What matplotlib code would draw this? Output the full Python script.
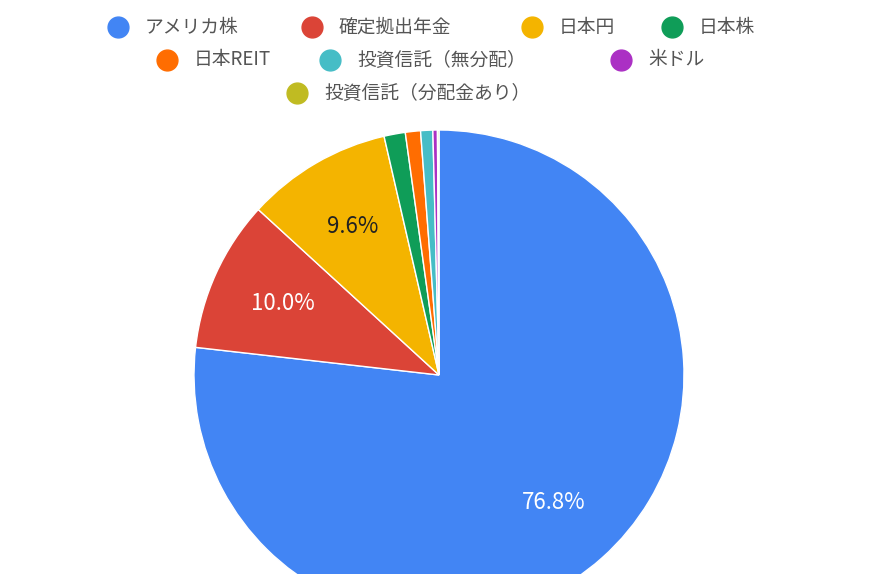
import matplotlib.pyplot as plt
from matplotlib.lines import Line2D

plt.rcParams['font.family'] = ['Noto Sans CJK JP', 'DejaVu Sans']

labels = ['アメリカ株', '確定拠出年金', '日本円', '日本株', '日本REIT',
          '投資信託（無分配）', '米ドル', '投資信託（分配金あり）']
values = [76.8, 10.0, 9.6, 1.4, 1.0, 0.8, 0.3, 0.1]
colors = ['#4285f4', '#db4437', '#f4b400', '#0f9d58', '#ff6d01',
          '#46bdc6', '#ab30c4', '#c0bb22']
pct_colors = ['white', 'white', '#222222']

W, H = 878, 574
fig = plt.figure(figsize=(W / 100, H / 100), dpi=100)

cx, cy, r = 439, 199, 245
ax = fig.add_axes([(cx - r) / W, (cy - r) / H, 2 * r / W, 2 * r / H])
wedges, texts, autotexts = ax.pie(
    values, colors=colors, startangle=90, counterclock=False,
    autopct=lambda p: f'{p:.1f}%' if p > 5 else '', pctdistance=0.7,
    wedgeprops=dict(edgecolor='white', linewidth=1),
    textprops=dict(fontsize=16))
for i, t in enumerate(autotexts):
    if i < len(pct_colors):
        t.set_color(pct_colors[i])
ax.set_xlim(-1, 1)
ax.set_ylim(-1, 1)
ax.set_aspect('equal')
ax.axis('off')

# legend laid out in rows like the original
rows = [[(118, 0), (312, 1), (532, 2), (672, 3)],
        [(167, 4), (330, 5), (621, 6)],
        [(297, 7)]]
row_y = [27, 60, 93]
for y, row in zip(row_y, rows):
    for x, i in row:
        fig.add_artist(Line2D([x / W], [1 - y / H], marker='o', markersize=15,
                              color=colors[i], transform=fig.transFigure))
        fig.text((x + 27) / W, 1 - y / H, labels[i], fontsize=13.5,
                 color='#555555', va='center', ha='left')

fig.savefig('out.png', dpi=100)
